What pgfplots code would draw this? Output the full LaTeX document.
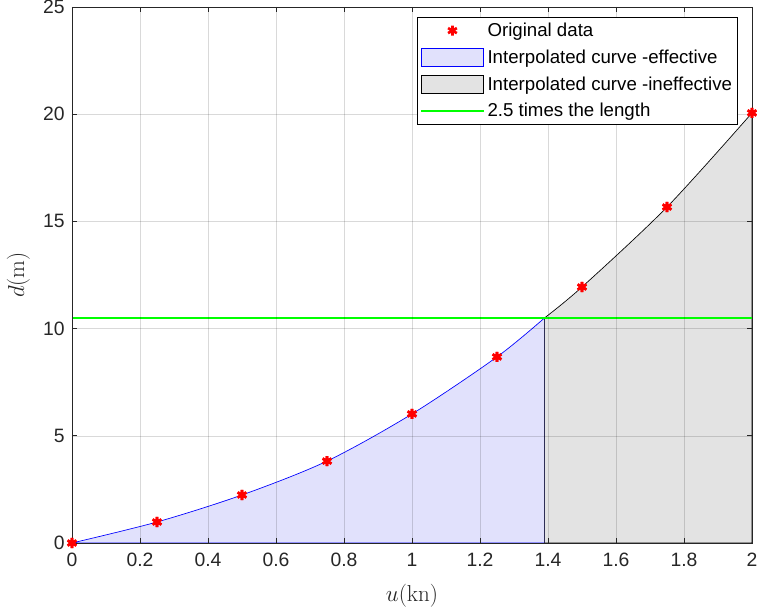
\documentclass[border=0pt]{standalone}
\usepackage[no-math]{fontspec}
\setmainfont{Liberation Sans}
\usepackage{pgfplots}
\pgfplotsset{compat=1.18}
\definecolor{axgray}{RGB}{38,38,38}
\definecolor{efffill}{RGB}{225,225,252}
\definecolor{ineffill}{RGB}{227,227,227}
\pgfplotsset{
  marklegend/.style={legend image code/.code={\draw[mark repeat=2,mark phase=2,##1] plot coordinates {(0pt,0pt) (23.5pt,0pt) (47pt,0pt)};}},
  rectlegend/.style={legend image code/.code={\draw[##1] (0pt,-7pt) rectangle (47pt,7pt);}},
  linelegend/.style={legend image code/.code={\draw[##1] (0pt,0pt) -- (47pt,0pt);}},
}
\begin{document}
\begin{tikzpicture}
\begin{axis}[
  scale only axis, width=510pt, height=402pt,
  xmin=0, xmax=2, ymin=0, ymax=25,
  xtick={0,0.2,0.4,0.6,0.8,1,1.2,1.4,1.6,1.8,2},
  ytick={0,5,10,15,20,25},
  grid=major, grid style={black, opacity=0.15, line width=0.4pt},
  axis on top,
  tick align=inside, major tick length=4pt,
  axis line style={color=axgray, line width=0.5pt},
  tick style={color=axgray, line width=0.5pt},
  ticklabel style={font=\fontsize{14.5}{16}\selectfont, text=axgray},
  yticklabel style={xshift=-2pt},
  xticklabel style={yshift=-4pt},
  /pgf/number format/assume math mode=true,
  xlabel={$u(\mathrm{kn})$}, ylabel={$d(\mathrm{m})$},
  label style={font=\fontsize{17.5}{19}\selectfont, text=axgray},
  xlabel style={yshift=-6pt},
  ylabel style={yshift=3pt},
  legend cell align=left,
  legend style={at={(0.979,0.981)}, anchor=north east, draw=black, line width=0.5pt,
    font=\fontsize{14}{16}\selectfont, row sep=4.5pt, inner sep=2pt},
]
\addplot[only marks, mark=asterisk, mark size=3.8pt, red, line width=2pt, marklegend]
  coordinates {(0,0) (0.25,0.98) (0.5,2.24) (0.75,3.82) (1,6.02) (1.25,8.68) (1.5,11.94) (1.75,15.67) (2,20.06)};
\addlegendentry{Original data}
\addplot[smooth, draw=blue, line width=0.5pt, fill=efffill, rectlegend]
  coordinates {(0,0) (0.25,0.98) (0.5,2.24) (0.75,3.82) (1,6.02) (1.25,8.68) (1.39,10.5)} \closedcycle;
\addlegendentry{Interpolated curve -effective}
\addplot[smooth, draw=black, line width=0.5pt, fill=ineffill, rectlegend]
  coordinates {(1.39,10.5) (1.5,11.94) (1.75,15.67) (2,20.06)} \closedcycle;
\addlegendentry{Interpolated curve -ineffective}
\addplot[only marks, mark=asterisk, mark size=3.8pt, red, line width=2pt, forget plot]
  coordinates {(0,0) (0.25,0.98) (0.5,2.24) (0.75,3.82) (1,6.02) (1.25,8.68) (1.5,11.94) (1.75,15.67) (2,20.06)};
\addplot[color=green, line width=1.6pt, linelegend]
  coordinates {(0,10.5) (2,10.5)};
\addlegendentry{2.5 times the length}
\coordinate (bl) at (rel axis cs:0,0);
\coordinate (tr) at (rel axis cs:1,1);
\end{axis}
\pgfresetboundingbox
\path ([shift={(-54pt,-49.5pt)}]bl) rectangle ([shift={(3.75pt,5.25pt)}]tr);
\end{tikzpicture}
\end{document}
